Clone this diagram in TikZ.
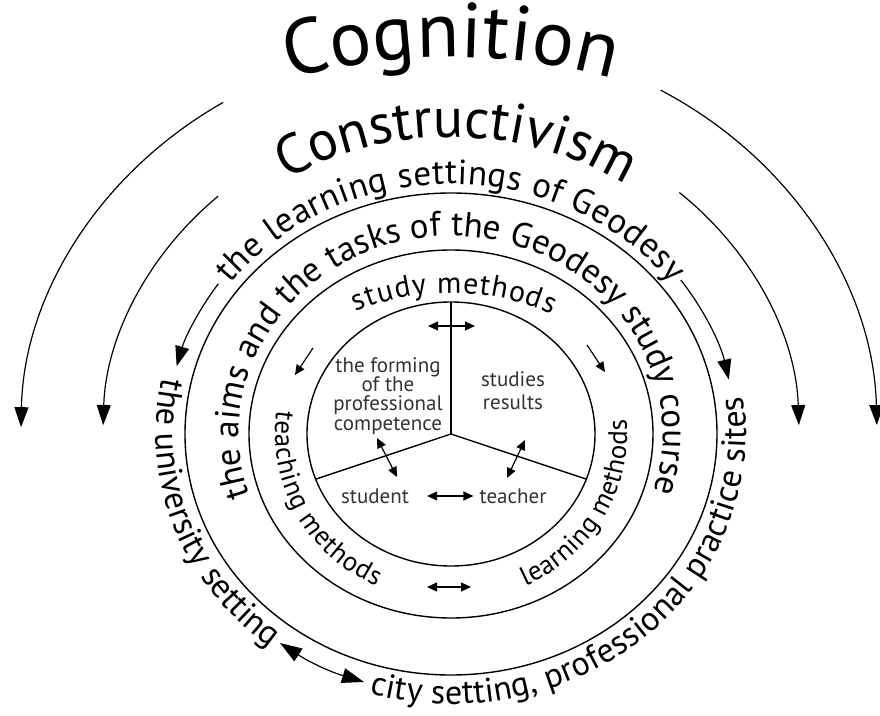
\documentclass[tikz,border=0pt]{standalone}
\usepackage{fontspec}
\setmainfont{PT Sans}
\usetikzlibrary{arrows.meta,decorations.text}

\begin{document}
\begin{tikzpicture}[x=1pt, y=1pt,
    ring/.style={line width=1.4pt},
    bigarrow/.style={-{Triangle[length=20pt,width=14pt]}, line width=1.2pt},
    smallarrow/.style={-{Triangle[length=10pt,width=9pt]}, line width=1.2pt},
    twoway/.style={{Triangle[length=10pt,width=9pt]}-{Triangle[length=10pt,width=9pt]}, line width=1.2pt},
    bigtwoway/.style={{Triangle[length=22pt,width=15pt]}-{Triangle[length=22pt,width=15pt]}, line width=1.2pt},
    inner/.style={inner sep=0pt, text=black!80, align=center},
    arctext/.style 2 args={decorate, decoration={text along path,
      text align=fit to path, text={|\fontsize{#1}{#1}\selectfont|#2}}}]
    \useasboundingbox (-451,-281) rectangle (429,434);

    % rings
    \draw[ring] (0,0) ellipse [x radius=144pt, y radius=132pt];
    \draw[ring] (0,0) ellipse [x radius=202pt, y radius=184pt];
    \draw[ring] (0,0) ellipse [x radius=266pt, y radius=241pt];

    % spokes
    \coordinate (hub) at (0,0);
    \coordinate (up) at (90:144pt and 132pt);
    \coordinate (lo) at (200:144pt and 132pt);
    \coordinate (ro) at (-20:144pt and 132pt);
    \draw[ring] (hub) -- (up);
    \draw[ring] (hub) -- (lo);
    \draw[ring] (hub) -- (ro);

    % inner labels
    \node[inner, font=\fontsize{21}{19.3}\selectfont] (forming) at (-63,38)
      {the forming\\of the\\professional\\competence};
    \node[inner, font=\fontsize{21}{23}\selectfont] (results) at (62,43)
      {studies\\results};
    \node[inner, font=\fontsize{21}{23}\selectfont] (student) at (-76,-62) {student};
    \node[inner, font=\fontsize{21}{23}\selectfont] (teacher) at (62,-62) {teacher};

    % curved labels, outside in
    \path[arctext={78}{Cognition}]
      (0,-227) ++(105.5:604pt) arc[start angle=105.5, end angle=74.5, radius=604pt];
    \path[arctext={56}{Constructivism}]
      (121:320pt and 297pt) arc[start angle=121, end angle=57, x radius=320pt, y radius=297pt];
    \path[arctext={35}{the learning settings of Geodesy}]
      (143:276pt and 250pt) arc[start angle=143, end angle=37, x radius=276pt, y radius=250pt];
    \path[arctext={34}{the university setting}]
      (168:295pt and 270pt) arc[start angle=168, end angle=231, x radius=295pt, y radius=270pt];
    \path[arctext={34}{city setting, professional practice sites}]
      (-106:295pt and 270pt) arc[start angle=-106, end angle=8, x radius=295pt, y radius=270pt];
    \path[arctext={35}{the aims and the tasks of the Geodesy study course}]
      (198:212pt and 198pt) arc[start angle=198, end angle=-17, x radius=212pt, y radius=198pt];
    \path[arctext={30}{study methods}]
      (120:190pt and 141pt) arc[start angle=120, end angle=58, x radius=190pt, y radius=141pt];
    \path[arctext={27}{teaching methods}]
      (172:176pt and 168pt) arc[start angle=172, end angle=245, x radius=176pt, y radius=168pt];
    \path[arctext={27}{learning methods}]
      (-65:176pt and 168pt) arc[start angle=-65, end angle=5, x radius=176pt, y radius=168pt];

    % big arrows, left
    \draw[bigarrow] (122:430pt and 391pt) arc[start angle=122, end angle=179, x radius=430pt, y radius=391pt];
    \draw[bigarrow] (132:348pt and 320pt) arc[start angle=132, end angle=178.4, x radius=348pt, y radius=320pt];
    \draw[bigarrow] (145:284pt and 262pt) arc[start angle=145, end angle=165, x radius=284pt, y radius=262pt];
    % big arrows, right
    \draw[bigarrow] (60.5:426pt and 395pt) arc[start angle=60.5, end angle=1.3, x radius=426pt, y radius=395pt];
    \draw[bigarrow] (49:348pt and 320pt) arc[start angle=49, end angle=1.6, x radius=348pt, y radius=320pt];
    \draw[bigarrow] (36:284pt and 262pt) arc[start angle=36, end angle=12, x radius=284pt, y radius=262pt];

    % small arrows
    \coordinate (sm1) at (-23,108);  \coordinate (sm2) at (24,108);
    \coordinate (tm1) at (-138,86);  \coordinate (tm2) at (-156,59);
    \coordinate (lm1) at (136,89);   \coordinate (lm2) at (154,62);
    \coordinate (fs1) at (-74,-4);   \coordinate (fs2) at (-54,-43);
    \coordinate (rt1) at (74,-6);    \coordinate (rt2) at (56,-44);
    \coordinate (mm1) at (-24,-153); \coordinate (mm2) at (20,-153);
    \coordinate (us1) at (-171,-209); \coordinate (us2) at (-87,-248);
    \draw[twoway] (sm1) -- (sm2);
    \draw[smallarrow] (tm1) -- (tm2);
    \draw[smallarrow] (lm1) -- (lm2);
    \draw[twoway] (fs1) -- (fs2);
    \draw[twoway] (rt1) -- (rt2);
    \draw[twoway, shorten <=18pt, shorten >=6pt] (student) -- (teacher);
    \draw[twoway] (mm1) -- (mm2);
    \draw[bigtwoway] (us1) to[bend right=8] (us2);
\end{tikzpicture}
\end{document}
